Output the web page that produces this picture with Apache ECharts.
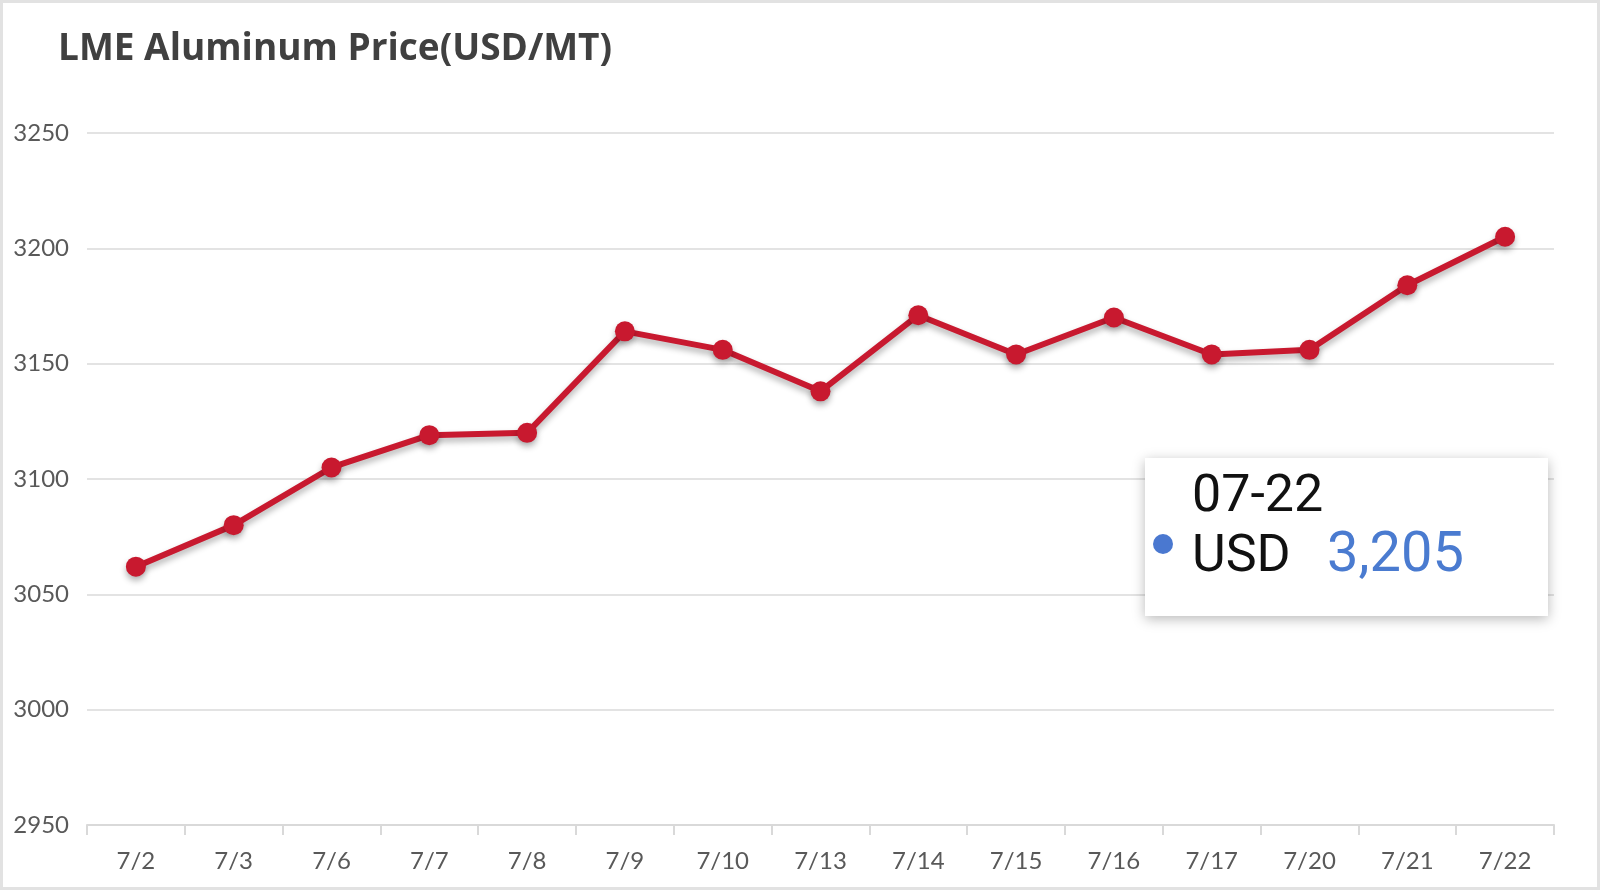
<!DOCTYPE html>
<html>
<head>
<meta charset="utf-8">
<script src="https://cdn.jsdelivr.net/npm/echarts@6/dist/echarts.min.js"></script>
<style>
  html, body { margin: 0; padding: 0; background: #fff; }
  .frame { width: 1600px; height: 890px; box-sizing: border-box; border: 3px solid #e2e2e2; }
  #chart { width: 1594px; height: 884px; }
</style>
</head>
<body>
<div class="frame"><div id="chart"></div></div>
<script>
// trading days shown on the x axis
const dates = ['7/2', '7/3', '7/6', '7/7', '7/8', '7/9', '7/10', '7/13', '7/14', '7/15', '7/16', '7/17', '7/20', '7/21', '7/22']
// LME aluminum price, USD per metric ton
const prices = [3062, 3080, 3105, 3119, 3120, 3164, 3156, 3138, 3171, 3154, 3170, 3154, 3156, 3184, 3205]
const yMin = 2950
const yMax = 3250
const yStep = 50
const tipIndex = 14

const chart = echarts.init(document.getElementById('chart'))

const option = {
  animation: false,
  title: {
    text: 'LME Aluminum Price(USD/MT)',
    left: 50,
    top: 23,
    textStyle: {
      fontFamily: 'Open Sans',
      fontWeight: 'bold',
      fontSize: 37,
      color: '#404040'
    }
  },
  grid: {
    left: 84,
    right: 43,
    top: 130,
    bottom: 62
  },
  tooltip: {
    trigger: 'item',
    triggerOn: 'none',
    alwaysShowContent: true,
    transitionDuration: 0,
    backgroundColor: '#fff',
    borderWidth: 0,
    padding: 0,
    position: () => [1142, 455],
    extraCssText: 'border-radius:0;box-shadow:0 3px 12px rgba(0,0,0,0.28);width:403px;height:158px;box-sizing:border-box;',
    formatter: p => {
      const parts = p.name.split('/')
      const label = parts.map(s => s.padStart(2, '0')).join('-')
      const val = p.value.toLocaleString('en-US')
      return '<div style="position:relative;width:403px;height:158px;font-family:Roboto;">' +
        '<div style="position:absolute;left:47px;top:6px;font-size:52px;line-height:60px;color:#111;">' + label + '</div>' +
        '<div style="position:absolute;left:8px;top:76px;width:20px;height:20px;border-radius:50%;background:#4a78d0;"></div>' +
        '<div style="position:absolute;left:47px;top:66px;font-size:52px;line-height:60px;color:#111;">USD</div>' +
        '<div style="position:absolute;left:182px;top:64px;font-size:56px;line-height:60px;color:#4a7bd0;">' + val + '</div>' +
        '</div>'
    }
  },
  xAxis: {
    type: 'category',
    data: dates,
    boundaryGap: true,
    axisLine: { lineStyle: { color: '#d9d9d9', width: 2 } },
    axisTick: { show: true, length: 10, lineStyle: { color: '#d9d9d9', width: 2 } },
    axisLabel: {
      margin: 24,
      fontFamily: 'Lato',
      fontSize: 24,
      color: '#595959'
    }
  },
  yAxis: {
    type: 'value',
    min: yMin,
    max: yMax,
    interval: yStep,
    axisLine: { show: false },
    axisTick: { show: false },
    axisLabel: {
      margin: 18,
      fontFamily: 'Lato',
      fontSize: 24,
      color: '#595959',
      formatter: v => String(v)
    },
    splitLine: { lineStyle: { color: '#e3e3e3', width: 2 } }
  },
  series: [{
    type: 'line',
    data: prices,
    symbol: 'circle',
    symbolSize: 20,
    emphasis: { disabled: true },
    lineStyle: {
      color: '#c8192f',
      width: 6,
      shadowColor: 'rgba(0,0,0,0.3)',
      shadowBlur: 6,
      shadowOffsetY: 4
    },
    itemStyle: {
      color: '#c8192f',
      shadowColor: 'rgba(0,0,0,0.3)',
      shadowBlur: 6,
      shadowOffsetY: 4
    }
  }]
}

chart.setOption(option)
chart.dispatchAction({ type: 'showTip', seriesIndex: 0, dataIndex: tipIndex })
</script>
</body>
</html>
